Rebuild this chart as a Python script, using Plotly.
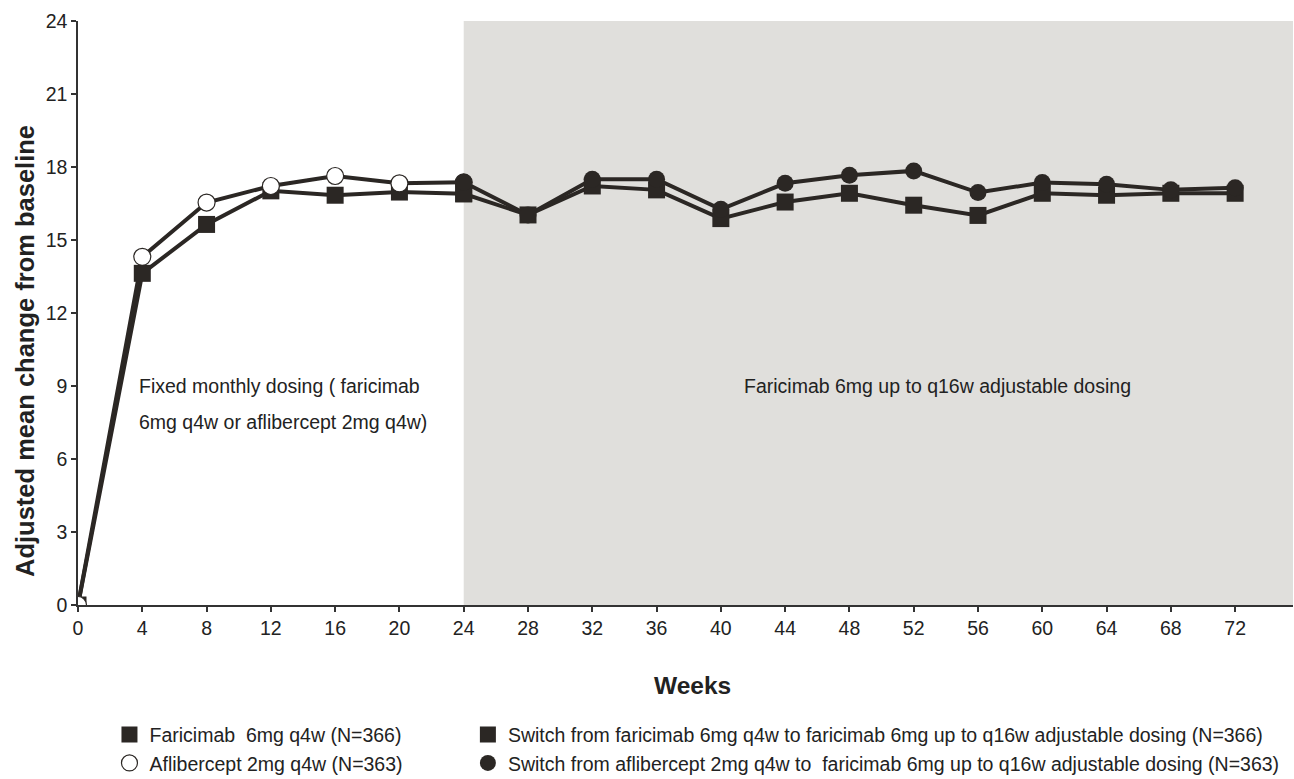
import plotly.graph_objects as go

weeks_fixed = [0, 4, 8, 12, 16, 20, 24]
weeks_switch = [24, 28, 32, 36, 40, 44, 48, 52, 56, 60, 64, 68, 72]

faricimab_q4w = [0, 13.63, 15.64, 17.02, 16.84, 16.97, 16.90]
aflibercept_q4w = [0, 14.31, 16.54, 17.22, 17.63, 17.33, 17.37]
switch_faricimab = [16.90, 16.03, 17.22, 17.06, 15.88, 16.56, 16.92, 16.43, 16.01, 16.92, 16.84, 16.92, 16.92]
switch_aflibercept = [17.37, 16.03, 17.50, 17.50, 16.26, 17.33, 17.66, 17.84, 16.95, 17.36, 17.29, 17.06, 17.15]

names = [
    "Faricimab  6mg q4w (N=366)",
    "Aflibercept 2mg q4w (N=363)",
    "Switch from faricimab 6mg q4w to faricimab 6mg up to q16w adjustable dosing (N=366)",
    "Switch from aflibercept 2mg q4w to  faricimab 6mg up to q16w adjustable dosing (N=363)",
]
x_ticks = list(range(0, 73, 4))
y_ticks = list(range(0, 25, 3))

DARK = "#2b2724"
TXT = "#222222"
FONT = "Liberation Sans, Arial, sans-serif"

fig = go.Figure()

series = [
    (weeks_fixed, faricimab_q4w, names[0], "square", DARK, "legend"),
    (weeks_fixed, aflibercept_q4w, names[1], "circle", "white", "legend"),
    (weeks_switch, switch_faricimab, names[2], "square", DARK, "legend2"),
    (weeks_switch, switch_aflibercept, names[3], "circle", DARK, "legend2"),
]

for xs, ys, nm, sym, fill, lg in series:
    fig.add_trace(go.Scatter(x=xs, y=ys, mode="lines", line=dict(color=DARK, width=4),
                             showlegend=False, hoverinfo="skip", cliponaxis=True))
for xs, ys, nm, sym, fill, lg in series:
    fig.add_trace(go.Scatter(x=xs, y=ys, mode="markers", name=nm, legend=lg,
                             marker=dict(symbol=sym, size=17, color=fill,
                                         line=dict(color=DARK, width=1.2 if fill == "white" else 0)),
                             cliponaxis=True))

fig.add_shape(type="rect", xref="x", yref="paper", x0=24, x1=75.6, y0=0, y1=1,
              fillcolor="#e0dfdc", line=dict(width=0), layer="below")

ann_font = dict(size=19.5, color=TXT, family=FONT)
fig.add_annotation(x=3.67, y=9.0, text="Fixed monthly dosing ( faricimab", showarrow=False,
                   xanchor="left", yanchor="middle", font=ann_font)
fig.add_annotation(x=3.67, y=7.52, text="6mg q4w or aflibercept 2mg q4w)", showarrow=False,
                   xanchor="left", yanchor="middle", font=ann_font)
fig.add_annotation(x=53.5, y=9.0, text="Faricimab 6mg up to q16w adjustable dosing", showarrow=False,
                   xanchor="center", yanchor="middle", font=ann_font)

# axis titles
fig.add_annotation(xref="paper", yref="paper", x=-0.0436, y=0.435,
                   text="<b>Adjusted mean change from baseline</b>", textangle=-90, showarrow=False,
                   xanchor="center", yanchor="middle", font=dict(size=25.5, color=TXT, family=FONT))
fig.add_annotation(xref="paper", yref="paper", x=0.5058, y=-0.137,
                   text="<b>Weeks</b>", showarrow=False,
                   xanchor="center", yanchor="middle", font=dict(size=24.5, color=TXT, family=FONT))

axis_common = dict(showgrid=False, zeroline=False, showline=True, linecolor="#333", linewidth=1.5,
                   ticks="outside", ticklen=5, tickcolor="#333", tickwidth=1.5,
                   tickfont=dict(size=19.5, color=TXT, family=FONT))

fig.update_layout(
    width=1294, height=779,
    margin=dict(l=78, r=1, t=21, b=174, autoexpand=False),
    plot_bgcolor="white", paper_bgcolor="white",
    font=dict(family=FONT, size=19.5, color=TXT),
    xaxis=dict(range=[0, 75.6], tickmode="array", tickvals=x_ticks, ticktext=[str(v) for v in x_ticks],
               automargin=False, **axis_common),
    yaxis=dict(range=[0, 24], tickmode="array", tickvals=y_ticks, ticktext=[str(v) for v in y_ticks],
               automargin=False, **axis_common),
    legend=dict(x=0.0259, y=-0.189, xanchor="left", yanchor="top", orientation="v",
                font=dict(size=19.5, color=TXT, family=FONT), bgcolor="rgba(0,0,0,0)",
                tracegroupgap=0),
    legend2=dict(x=0.3209, y=-0.189, xanchor="left", yanchor="top", orientation="v",
                 font=dict(size=19.5, color=TXT, family=FONT), bgcolor="rgba(0,0,0,0)",
                 tracegroupgap=0),
    showlegend=True,
)

fig.write_html("out.html", config={"displayModeBar": False},
               post_script="document.body.style.margin='0';document.body.style.overflow='hidden';")
